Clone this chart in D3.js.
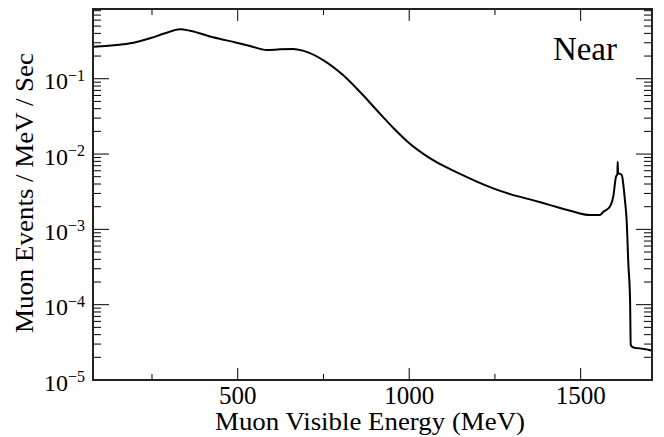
<!DOCTYPE html>
<html>
<head>
<meta charset="utf-8">
<script src="https://cdn.jsdelivr.net/npm/d3@7/dist/d3.min.js"></script>
<style>
html,body{margin:0;padding:0;background:#fff;}
svg{display:block;}
text{font-family:"Liberation Serif","DejaVu Serif",serif;fill:#000;}
</style>
</head>
<body>
<div id="chart"></div>
<script>
// Data
const energy = [78,196,244,288,332,361,428,497,536,585,623,661,690,749,807,865,905,954,1002,1051,1099,1148,1197,1245,1294,1352,1411,1469,1527,1556,1566,1585,1595,1603,1607,1608,1609,1611,1620,1624,1629,1634,1639,1644,1646,1653,1663,1673,1683,1692,1700,1708];
const rate = [0.266,0.301,0.344,0.401,0.453,0.434,0.355,0.301,0.272,0.240,0.246,0.248,0.236,0.177,0.112,0.0608,0.0384,0.0222,0.0137,0.0094,0.00700,0.00545,0.00430,0.00350,0.00294,0.00250,0.00210,0.00177,0.00155,0.00155,0.00171,0.00200,0.00271,0.00500,0.00540,0.00791,0.00560,0.00555,0.00526,0.00408,0.00245,0.00133,0.000353,0.000115,0.0000291,0.0000271,0.0000265,0.0000263,0.0000259,0.0000255,0.0000250,0.0000244];
const xMajorTicks = [500,1000,1500];
const xMinorTicks = [250,750,1250];
const yMajorTicks = [1e-5,1e-4,1e-3,1e-2,1e-1];
const yTickExponents = ["−5","−4","−3","−2","−1"];
const xTitle = "Muon Visible Energy (MeV)";
const yTitle = "Muon Events / MeV / Sec";
const panelLabel = "Near";

const W = 664, H = 437;
const m = {left:93, right:12, top:9, bottom:57};
const pw = W - m.left - m.right, ph = H - m.top - m.bottom;

const svg = d3.select("#chart").append("svg").attr("width",W).attr("height",H);
svg.append("rect").attr("width",W).attr("height",H).attr("fill","#fff");

const x = d3.scaleLinear().domain([78,1708]).range([m.left, m.left+pw]);
const y = d3.scaleLog().domain([1e-5,0.843]).range([m.top+ph, m.top]);

const g = svg.append("g");

// minor y ticks
const yMinor = [];
for (let e=-5;e<=-1;e++) for (let k=2;k<=9;k++){ const v=k*Math.pow(10,e); if (v<0.843) yMinor.push(v); }

const tickColor = "#000";
yMajorTicks.forEach(v=>{
  g.append("line").attr("x1",m.left).attr("x2",m.left+16).attr("y1",y(v)).attr("y2",y(v)).attr("stroke",tickColor).attr("stroke-width",1);
  g.append("line").attr("x1",m.left+pw).attr("x2",m.left+pw-16).attr("y1",y(v)).attr("y2",y(v)).attr("stroke",tickColor).attr("stroke-width",1);
});
yMinor.forEach(v=>{
  g.append("line").attr("x1",m.left).attr("x2",m.left+8).attr("y1",y(v)).attr("y2",y(v)).attr("stroke",tickColor).attr("stroke-width",1);
  g.append("line").attr("x1",m.left+pw).attr("x2",m.left+pw-8).attr("y1",y(v)).attr("y2",y(v)).attr("stroke",tickColor).attr("stroke-width",1);
});
xMajorTicks.forEach(v=>{
  g.append("line").attr("x1",x(v)).attr("x2",x(v)).attr("y1",m.top+ph).attr("y2",m.top+ph-12).attr("stroke",tickColor).attr("stroke-width",1);
  g.append("line").attr("x1",x(v)).attr("x2",x(v)).attr("y1",m.top).attr("y2",m.top+12).attr("stroke",tickColor).attr("stroke-width",1);
});
xMinorTicks.forEach(v=>{
  g.append("line").attr("x1",x(v)).attr("x2",x(v)).attr("y1",m.top+ph).attr("y2",m.top+ph-6).attr("stroke",tickColor).attr("stroke-width",1);
  g.append("line").attr("x1",x(v)).attr("x2",x(v)).attr("y1",m.top).attr("y2",m.top+6).attr("stroke",tickColor).attr("stroke-width",1);
});

// curve
const line = d3.line().x((d,i)=>x(energy[i])).y((d,i)=>y(rate[i])).curve(d3.curveMonotoneX);
g.append("path").datum(rate).attr("d",line).attr("fill","none").attr("stroke","#000").attr("stroke-width",2).attr("stroke-linejoin","round");

// frame
g.append("rect").attr("x",m.left).attr("y",m.top).attr("width",pw).attr("height",ph).attr("fill","none").attr("stroke","#222").attr("stroke-width",2);

// x labels
xMajorTicks.forEach(v=>{
  svg.append("text").attr("x",x(v)).attr("y",404).attr("text-anchor","middle").attr("font-size",25).text(v);
});
svg.append("text").attr("x",215).attr("y",430).attr("font-size",25)
  .attr("textLength",310).attr("lengthAdjust","spacingAndGlyphs").text(xTitle);

// y labels
yMajorTicks.forEach((v,i)=>{
  const t = svg.append("text").attr("x",85).attr("y",y(v)+10.6).attr("text-anchor","end").attr("font-size",24);
  t.append("tspan").text("10");
  t.append("tspan").attr("dy",-8.6).attr("font-size",16).text(yTickExponents[i]);
});
svg.append("text").attr("transform",`translate(33,333) rotate(-90)`).attr("font-size",25)
  .attr("textLength",280).attr("lengthAdjust","spacingAndGlyphs").text(yTitle);

svg.append("text").attr("x",617).attr("y",60).attr("text-anchor","end").attr("font-size",33).text(panelLabel);
</script>
</body>
</html>
